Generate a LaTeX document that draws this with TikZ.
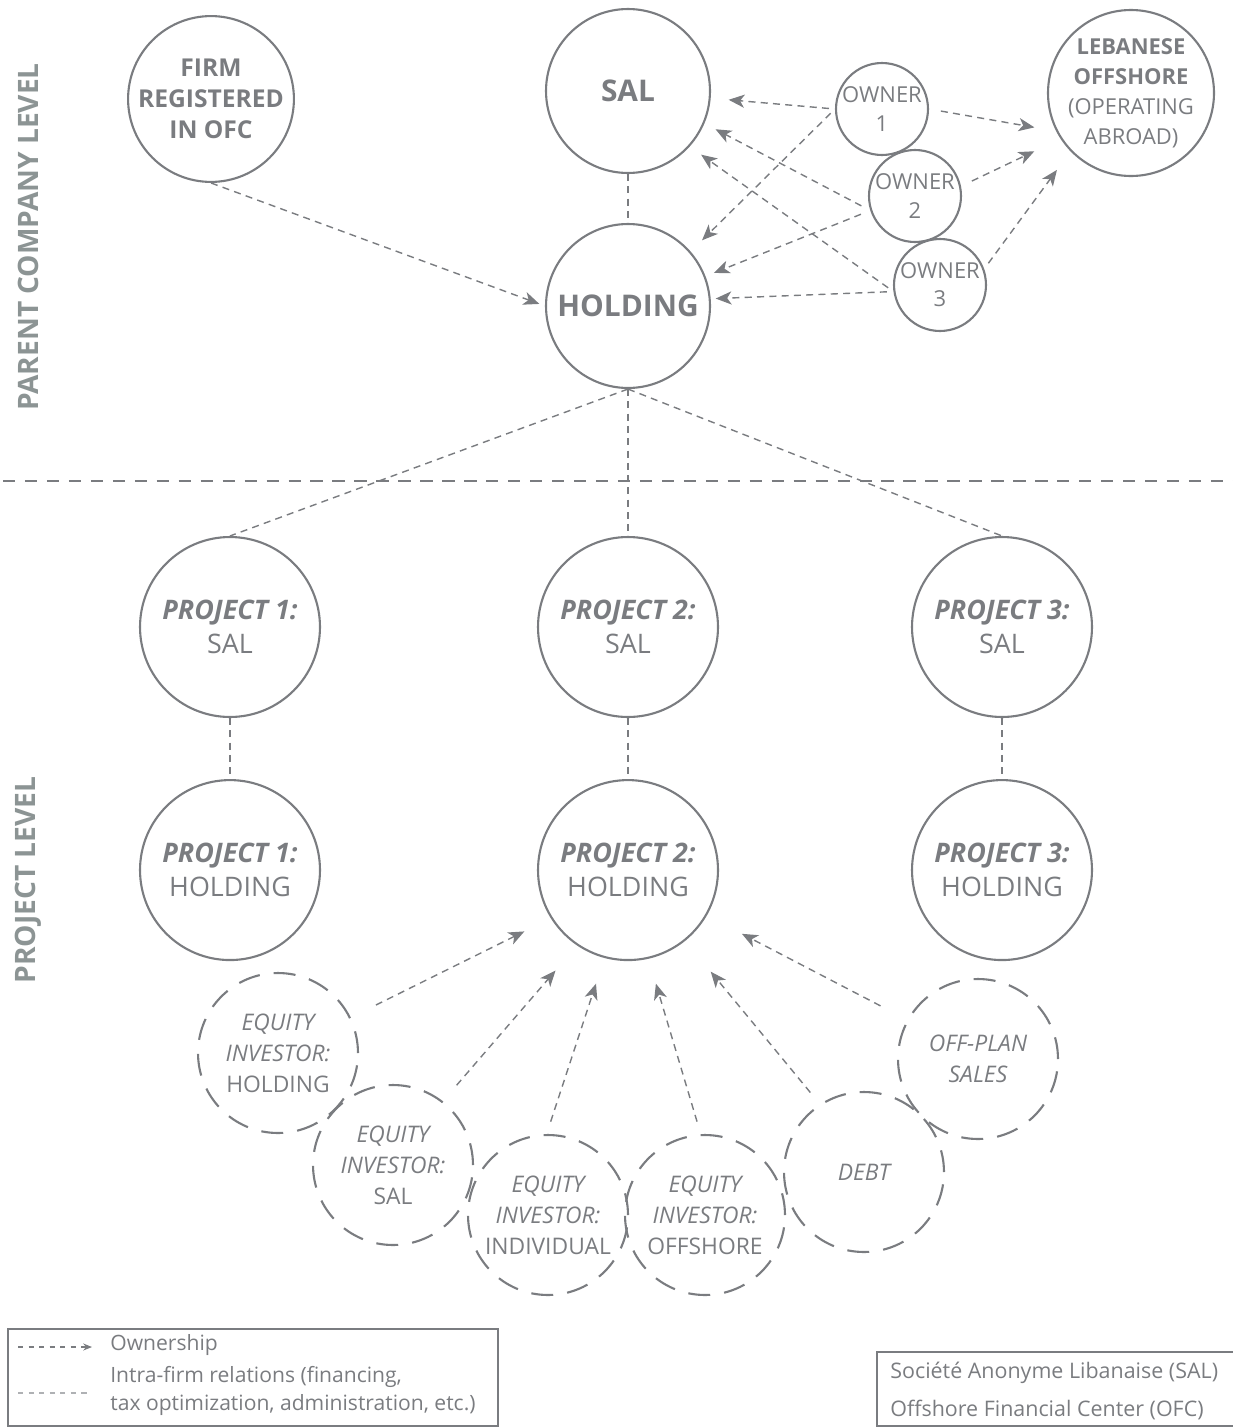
\documentclass[tikz,border=0pt]{standalone}
\usepackage{fontspec}
\setmainfont{Open Sans}
\usepackage{xcolor}
\usetikzlibrary{arrows.meta, positioning}

\definecolor{diagray}{RGB}{122,124,128}
\definecolor{levelgray}{RGB}{140,148,148}
\definecolor{samplegray}{RGB}{175,177,180}

\begin{document}
\begin{tikzpicture}[
    x=0.02cm, y=-0.02cm,
    every node/.style={text=diagray, inner sep=0pt},
    firmbox/.style={circle, draw=diagray, line width=1.2pt, minimum size=3.24cm, align=center, font=\bfseries\fontsize{14}{17.5}\selectfont},
    lebbox/.style={circle, draw=diagray, line width=1.2pt, minimum size=3.2cm, align=center, font=\bfseries\fontsize{12.5}{17}\selectfont},
    bigbold/.style={circle, draw=diagray, line width=1.2pt, minimum size=3.28cm, font=\bfseries\fontsize{17}{20}\selectfont},
    owner/.style={circle, draw=diagray, line width=1.2pt, minimum size=1.84cm, align=center, font=\fontsize{12.5}{16}\selectfont},
    proj/.style={circle, draw=diagray, line width=1.2pt, minimum size=3.6cm, align=center, font=\fontsize{15.3}{19.3}\selectfont},
    inv/.style={circle, draw=diagray, line width=1.2pt, dash pattern=on 12.5pt off 8pt, minimum size=3.2cm, align=center, font=\fontsize{13}{17.6}\selectfont},
    own/.style={draw=diagray, line width=0.8pt, dash pattern=on 4pt off 3pt, -{Stealth[length=9pt, width=7.5pt, inset=2.5pt]}},
    intra/.style={draw=diagray, line width=0.8pt, dash pattern=on 4pt off 3pt},
    sepline/.style={draw=diagray, line width=1.5pt, dash pattern=on 7pt off 5.5pt},
    legendbox/.style={draw=diagray, line width=0.6pt},
    legendtext/.style={anchor=west, align=left, font=\fontsize{12}{16}\selectfont},
    level/.style={rotate=90, text=levelgray, font=\bfseries\fontsize{16}{16}\selectfont}
]
    \useasboundingbox (0,0) rectangle (1233,1427);

    % side labels
    \node[level] (lvlparent) at (28,237) {PARENT COMPANY LEVEL};
    \node[level] (lvlproject) at (28,880) {PROJECT LEVEL};

    % parent company level
    \node[firmbox] (firm) at (211,99) {FIRM\\REGISTERED\\IN OFC};
    \node[bigbold] (sal) at (628,91) {SAL};
    \node[bigbold] (hold) at (628,306) {HOLDING};
    \node[lebbox] (leb) at (1131,93) {LEBANESE\\OFFSHORE\\{\mdseries (OPERATING}\\{\mdseries ABROAD)}};
    \node[owner] (own1) at (882,109) {OWNER\\1};
    \node[owner] (own2) at (915,196) {OWNER\\2};
    \node[owner] (own3) at (940,285) {OWNER\\3};

    % separator
    \coordinate (sepL) at (3,481);
    \coordinate (sepR) at (1233,481);
    \draw[sepline] (sepL) -- (sepR);

    % project level
    \node[proj] (p1sal) at (230,627) {\textbf{\textit{PROJECT 1:}}\\SAL};
    \node[proj] (p2sal) at (628,627) {\textbf{\textit{PROJECT 2:}}\\SAL};
    \node[proj] (p3sal) at (1002,627) {\textbf{\textit{PROJECT 3:}}\\SAL};
    \node[proj, below=1.22cm of p1sal] (p1hold) {\textbf{\textit{PROJECT 1:}}\\HOLDING};
    \node[proj, below=1.22cm of p2sal] (p2hold) {\textbf{\textit{PROJECT 2:}}\\HOLDING};
    \node[proj, below=1.22cm of p3sal] (p3hold) {\textbf{\textit{PROJECT 3:}}\\HOLDING};

    % investors
    \node[inv] (eqhold) at (278,1053) {{\itshape EQUITY}\\{\itshape INVESTOR:}\\HOLDING};
    \node[inv] (eqsal) at (393,1165) {{\itshape EQUITY}\\{\itshape INVESTOR:}\\SAL};
    \node[inv] (eqind) at (548,1215) {{\itshape EQUITY}\\{\itshape INVESTOR:}\\INDIVIDUAL};
    \node[inv] (eqoff) at (705,1215) {{\itshape EQUITY}\\{\itshape INVESTOR:}\\OFFSHORE};
    \node[inv] (debt) at (864,1172) {\itshape DEBT};
    \node[inv] (offplan) at (978,1059) {{\itshape OFF-PLAN}\\{\itshape SALES}};

    % intra-firm relations
    \draw[intra] (sal) -- (hold);
    \draw[intra] (hold.south) -- (p1sal.north);
    \draw[intra] (hold.south) -- (p2sal.north);
    \draw[intra] (hold.south) -- (p3sal.north);
    \draw[intra] (p1sal) -- (p1hold);
    \draw[intra] (p2sal) -- (p2hold);
    \draw[intra] (p3sal) -- (p3hold);

    % ownership
    \draw[own, shorten >=0.12cm] (firm.south) -- (hold.west);
    \draw[own, shorten <=0.12cm, shorten >=0.36cm] (own1.180) -- (sal.355);
    \draw[own, shorten <=0.12cm, shorten >=0.32cm] (own1.180) -- (hold.41);
    \draw[own, shorten <=0.2cm, shorten >=0.25cm] (own2.198) -- (sal.337);
    \draw[own, shorten <=0.2cm, shorten >=0.18cm] (own2.198) -- (hold.21);
    \draw[own, shorten <=0.13cm, shorten >=0.28cm] (own3.188) -- (sal.318);
    \draw[own, shorten <=0.13cm, shorten >=0.1cm] (own3.188) -- (hold.5);
    \draw[own, shorten <=0.24cm, shorten >=0.44cm] (own1.0) -- (leb.207);
    \draw[own, shorten <=0.24cm, shorten >=0.58cm] (own2.12) -- (leb.213);
    \draw[own, shorten <=0.14cm, shorten >=0.46cm] (own3.20) -- (leb.224);

    \draw[own, shorten <=0.56cm, shorten >=0.59cm] (eqhold.26) -- (p2hold.212);
    \draw[own, shorten <=0.42cm, shorten >=0.66cm] (eqsal.52) -- (p2hold.236);
    \draw[own, shorten <=0.26cm, shorten >=0.54cm] (eqind.91) -- (p2hold.255);
    \draw[own, shorten <=0.26cm, shorten >=0.52cm] (eqoff.93) -- (p2hold.283);
    \draw[own, shorten <=0.3cm, shorten >=0.8cm] (debt.123) -- (p2hold.309);
    \draw[own, shorten <=0.6cm, shorten >=0.79cm] (offplan.151) -- (p2hold.330);

    % legend
    \draw[legendbox] (8,1329) rectangle (498,1426);
    \coordinate (ownA) at (18,1347);
    \coordinate (ownB) at (92,1347);
    \coordinate (intraA) at (18,1393);
    \coordinate (intraB) at (90,1393);
    \draw[draw=diagray, line width=0.6pt, dash pattern=on 3pt off 3pt, -{Stealth[length=5pt, width=4pt]}] (ownA) -- (ownB);
    \draw[draw=samplegray, line width=0.6pt, dash pattern=on 3pt off 3pt] (intraA) -- (intraB);
    \node[legendtext] (lgown) at (110,1345) {Ownership};
    \node[legendtext] (lgintra) at (110,1391) {Intra-firm relations (financing,\\tax optimization, administration, etc.)};

    \draw[legendbox] (877,1352) rectangle (1240,1426);
    \node[legendtext, font=\fontsize{12.2}{21.5}\selectfont] (lgabbr) at (890,1391) {Société Anonyme Libanaise (SAL)\\Offshore Financial Center (OFC)};
\end{tikzpicture}
\end{document}
